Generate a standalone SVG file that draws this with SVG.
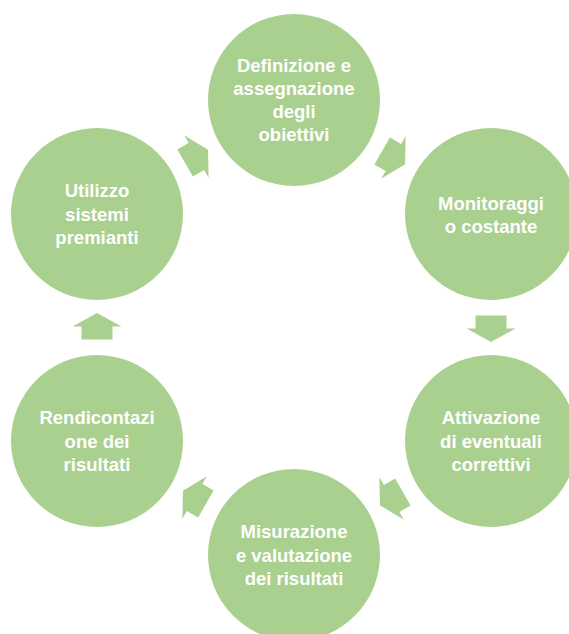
<svg xmlns="http://www.w3.org/2000/svg" width="569" height="634" viewBox="0 0 569 634">
<style>
.node circle{fill:#A9D08E}
.node text{fill:#FFFFFF;font-family:"Liberation Sans",Arial,sans-serif;font-weight:bold;font-size:18.5px;text-anchor:middle}
.conn use{fill:#A9D08E}
</style>
<defs>
<polygon id="arr" points="-12,-15.5 1,-15.5 1,-24.5 14.5,0 1,24.5 1,15.5 -12,15.5"/>
</defs>
<rect width="569" height="634" fill="#FFFFFF"/>
<g id="connectors" class="conn">
<use href="#arr" transform="translate(392.5,157) rotate(30)"/>
<use href="#arr" transform="translate(491,327.5) rotate(90)"/>
<use href="#arr" transform="translate(392.5,498) rotate(150)"/>
<use href="#arr" transform="translate(195.5,498) rotate(210)"/>
<use href="#arr" transform="translate(97,327.5) rotate(270)"/>
<use href="#arr" transform="translate(195.5,157) rotate(330)"/>
</g>
<g id="n1" class="node">
<circle cx="294" cy="100" r="86"/>
<text x="294" y="71.5">Definizione e</text>
<text x="294" y="94.8">assegnazione</text>
<text x="294" y="118.1">degli</text>
<text x="294" y="141.4">obiettivi</text>
</g>
<g id="n2" class="node">
<circle cx="491" cy="214" r="86"/>
<text x="491" y="210">Monitoraggi</text>
<text x="491" y="233.3">o costante</text>
</g>
<g id="n3" class="node">
<circle cx="491" cy="441" r="86"/>
<text x="491" y="424.4">Attivazione</text>
<text x="491" y="447.7">di eventuali</text>
<text x="491" y="471">correttivi</text>
</g>
<g id="n4" class="node">
<circle cx="294" cy="555" r="86"/>
<text x="294" y="538.2">Misurazione</text>
<text x="294" y="561.5">e valutazione</text>
<text x="294" y="584.8">dei risultati</text>
</g>
<g id="n5" class="node">
<circle cx="97" cy="441" r="86"/>
<text x="97" y="424.4">Rendicontazi</text>
<text x="97" y="447.7">one dei</text>
<text x="97" y="471">risultati</text>
</g>
<g id="n6" class="node">
<circle cx="97" cy="214" r="86"/>
<text x="97" y="197.2">Utilizzo</text>
<text x="97" y="220.5">sistemi</text>
<text x="97" y="243.8">premianti</text>
</g>
</svg>
